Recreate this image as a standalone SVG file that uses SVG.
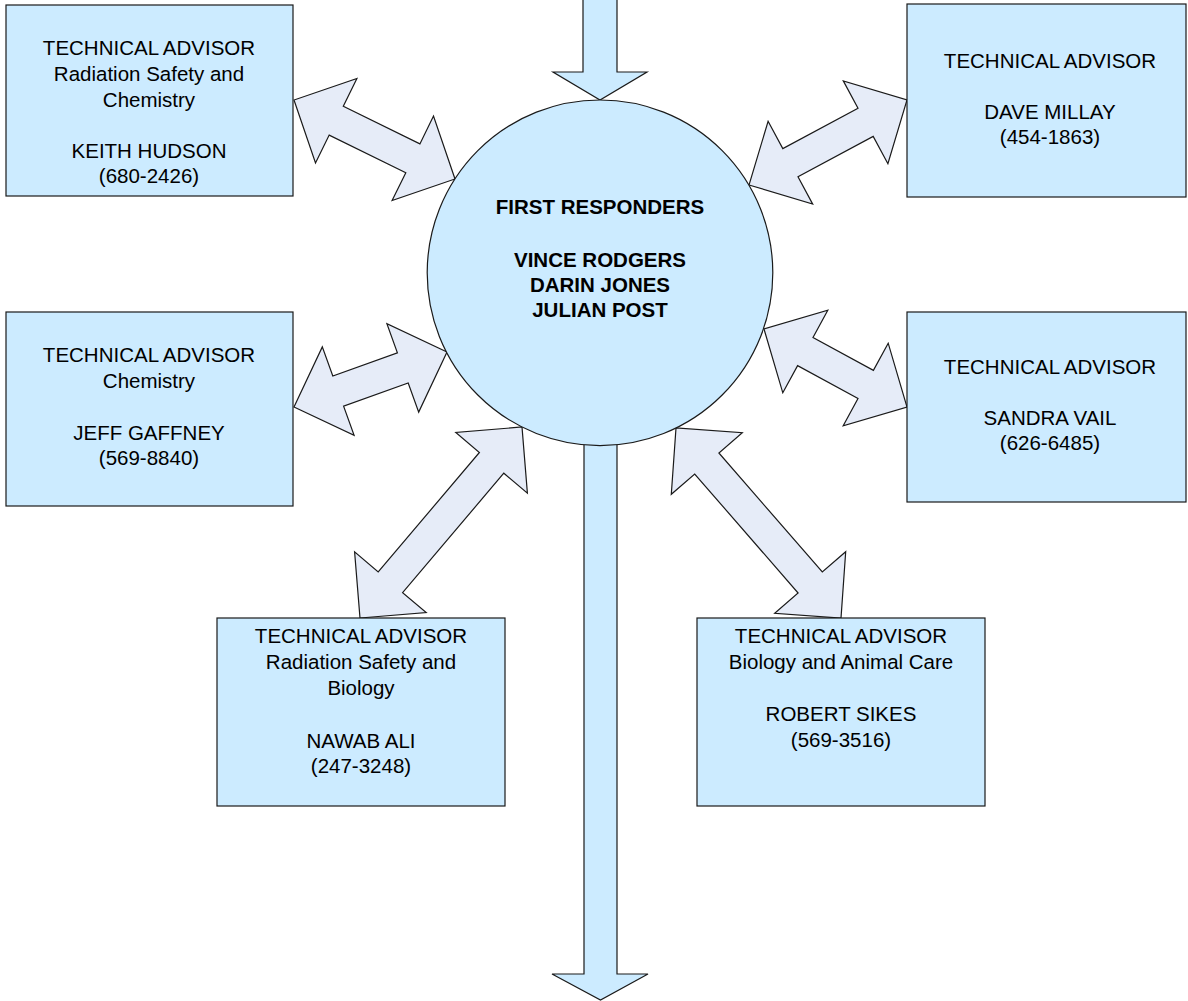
<svg xmlns="http://www.w3.org/2000/svg" width="1188" height="1001" viewBox="0 0 1188 1001">
<style>
.box{fill:#CCEBFF;stroke:#1a1a1a;stroke-width:1.2}
.dbl{fill:#E6ECF8;stroke:#1a1a1a;stroke-width:1.2;stroke-linejoin:miter}
.flow{fill:#CCEBFF;stroke:#1a1a1a;stroke-width:1.2}
.t{font-family:"Liberation Sans",Arial,sans-serif;font-size:20.5px;fill:#000;text-anchor:middle}
.b{font-weight:bold}
</style>
<rect width="1188" height="1001" fill="#fff"/>
<g id="connectors">
<polygon id="flow-in" class="flow" points="583,-2 617,-2 617,72 647,72 600,100 553,72 583,72"/>
<polygon id="flow-out" class="flow" points="584,440 617,440 617,974 648,974 600.5,1000 552,974 584,974"/>
<polygon class="dbl" points="294,100 315.5,162.9 329.2,135.1 405.8,172.7 392.1,200.5 455,179 433.5,116.1 419.9,143.9 343.3,106.3 356.9,78.5"/>
<polygon class="dbl" points="749,185 812.7,204.1 798,176.8 873.2,136.4 887.9,163.7 907,100 843.3,80.9 858,108.2 782.8,148.6 768.1,121.3"/>
<polygon class="dbl" points="294,407 354.1,435.3 343.6,406.2 408.2,383 418.7,412.1 447,352 386.9,323.7 397.4,352.8 332.8,376 322.3,346.9"/>
<polygon class="dbl" points="764,329 782.8,392.8 797.6,365.6 858,398.5 843.2,425.8 907,407 888.2,343.2 873.4,370.4 813,337.5 827.8,310.2"/>
<polygon class="dbl" points="360,618 426.2,612.6 402.6,592.6 503.8,473.2 527.4,493.2 522,427 455.8,432.4 479.4,452.5 378.2,571.9 354.6,551.8"/>
<polygon class="dbl" points="676,428 671.3,494.3 694.7,474 798.1,593 774.7,613.3 841,618 845.7,551.7 822.3,572 718.9,453 742.3,432.7"/>
</g>
<g id="first-responders">
<circle class="box" cx="600" cy="272.8" r="172.8"/>
<text class="t b" x="600" y="214">FIRST RESPONDERS</text>
<text class="t b" x="600" y="266.7">VINCE RODGERS</text>
<text class="t b" x="600" y="291.7">DARIN JONES</text>
<text class="t b" x="600" y="316.7">JULIAN POST</text>
</g>
<g id="keith-hudson">
<rect class="box" x="6" y="5" width="287" height="191"/>
<text class="t" x="149" y="55">TECHNICAL ADVISOR</text>
<text class="t" x="149" y="81">Radiation Safety and</text>
<text class="t" x="149" y="107">Chemistry</text>
<text class="t" x="149" y="158">KEITH HUDSON</text>
<text class="t" x="149" y="183">(680-2426)</text>
</g>
<g id="dave-millay">
<rect class="box" x="907" y="4" width="279" height="193"/>
<text class="t" x="1050" y="68">TECHNICAL ADVISOR</text>
<text class="t" x="1050" y="119">DAVE MILLAY</text>
<text class="t" x="1050" y="144">(454-1863)</text>
</g>
<g id="jeff-gaffney">
<rect class="box" x="6" y="312" width="287" height="194"/>
<text class="t" x="149" y="362">TECHNICAL ADVISOR</text>
<text class="t" x="149" y="388">Chemistry</text>
<text class="t" x="149" y="440">JEFF GAFFNEY</text>
<text class="t" x="149" y="465">(569-8840)</text>
</g>
<g id="sandra-vail">
<rect class="box" x="907" y="312" width="279" height="190"/>
<text class="t" x="1050" y="374">TECHNICAL ADVISOR</text>
<text class="t" x="1050" y="425">SANDRA VAIL</text>
<text class="t" x="1050" y="450">(626-6485)</text>
</g>
<g id="nawab-ali">
<rect class="box" x="217" y="618" width="288" height="188"/>
<text class="t" x="361" y="643">TECHNICAL ADVISOR</text>
<text class="t" x="361" y="669">Radiation Safety and</text>
<text class="t" x="361" y="695">Biology</text>
<text class="t" x="361" y="748">NAWAB ALI</text>
<text class="t" x="361" y="773">(247-3248)</text>
</g>
<g id="robert-sikes">
<rect class="box" x="697" y="618" width="288" height="188"/>
<text class="t" x="841" y="643">TECHNICAL ADVISOR</text>
<text class="t" x="841" y="669">Biology and Animal Care</text>
<text class="t" x="841" y="721">ROBERT SIKES</text>
<text class="t" x="841" y="747">(569-3516)</text>
</g>
</svg>
